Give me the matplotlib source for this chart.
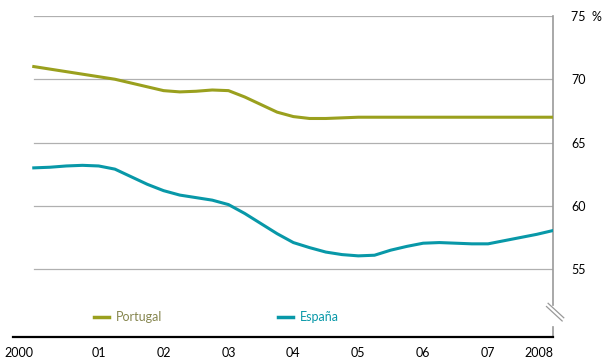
import numpy as np
import matplotlib.pyplot as plt

# tasa de actividad / empleo, datos trimestrales 2000-2008
quarters = np.arange(2000, 2008.01, 0.25)
portugal = [71.0, 70.8, 70.6, 70.4, 70.2, 70.0, 69.7, 69.4,
            69.1, 69.0, 69.05, 69.15, 69.1, 68.6, 68.0, 67.4,
            67.05, 66.9, 66.9, 66.95, 67.0, 67.0, 67.0, 67.0,
            67.0, 67.0, 67.0, 67.0, 67.0, 67.0, 67.0, 67.0, 67.0]
espana = [63.0, 63.05, 63.15, 63.2, 63.15, 62.9, 62.3, 61.7,
          61.2, 60.85, 60.65, 60.45, 60.1, 59.4, 58.6, 57.8,
          57.1, 56.7, 56.35, 56.15, 56.05, 56.1, 56.5, 56.8,
          57.05, 57.1, 57.05, 57.0, 57.0, 57.25, 57.5, 57.75, 58.05]
year_ticks = [2000, 2001, 2002, 2003, 2004, 2005, 2006, 2007, 2008]
year_labels = ["2000", "01", "02", "03", "04", "05", "06", "07", "2008"]
y_ticks = [55, 60, 65, 70, 75]

plt.rcParams['font.family'] = ['Lato', 'DejaVu Sans']

fig = plt.figure(figsize=(6.05, 3.62), dpi=100)
ax = fig.add_axes([0.0215, 0.069, 0.8925, 0.887])

col_pt = "#9aa01e"
col_es = "#0898a8"

for y in y_ticks:
    ax.plot([2000, 2008], [y, y], color="#b0b0b0", lw=0.9, zorder=1)

ax.plot(quarters, portugal, color=col_pt, lw=2.2, label="Portugal", zorder=3)
ax.plot(quarters, espana, color=col_es, lw=2.2, label="España", zorder=3)

ax.set_xlim(1999.68, 2008)
ax.set_ylim(49.64, 75)

for s in ["top", "left", "right"]:
    ax.spines[s].set_visible(False)
ax.spines["bottom"].set_color("black")
ax.spines["bottom"].set_linewidth(1.6)

# eje derecho con corte
ax.plot([1, 1], [0.101, 1], transform=ax.transAxes, color="#999999",
        lw=1.2, clip_on=False)
ax.plot([1, 1], [0, 0.03], transform=ax.transAxes, color="#999999",
        lw=1.2, clip_on=False)
ax.plot([0.988, 1.017], [0.095, 0.050], transform=ax.transAxes,
        color="#999999", lw=0.9, clip_on=False)
ax.plot([0.991, 1.020], [0.105, 0.060], transform=ax.transAxes,
        color="#999999", lw=0.9, clip_on=False)

ax.yaxis.tick_right()
ax.set_yticks(y_ticks)
ax.set_yticklabels([str(v) if v != 75 else "75  %" for v in y_ticks],
                   ha="left")
ax.tick_params(axis="y", length=0, pad=13, labelsize=9)

ax.set_xticks(year_ticks)
ax.set_xticklabels(year_labels)
ax.tick_params(axis="x", length=0, pad=7, labelsize=9)
ax.get_xticklabels()[0].set_ha("right")
ax.get_xticklabels()[-1].set_ha("right")

leg = ax.legend(loc="center left", bbox_to_anchor=(0.13, 0.062), ncol=2,
                frameon=False, handlelength=1.2, handletextpad=0.5,
                columnspacing=9.3, fontsize=9)
for txt, c in zip(leg.get_texts(), ["#86864f", col_es]):
    txt.set_color(c)
for h in leg.get_lines():
    h.set_linewidth(2.5)

fig.savefig("out.png", dpi=100)
